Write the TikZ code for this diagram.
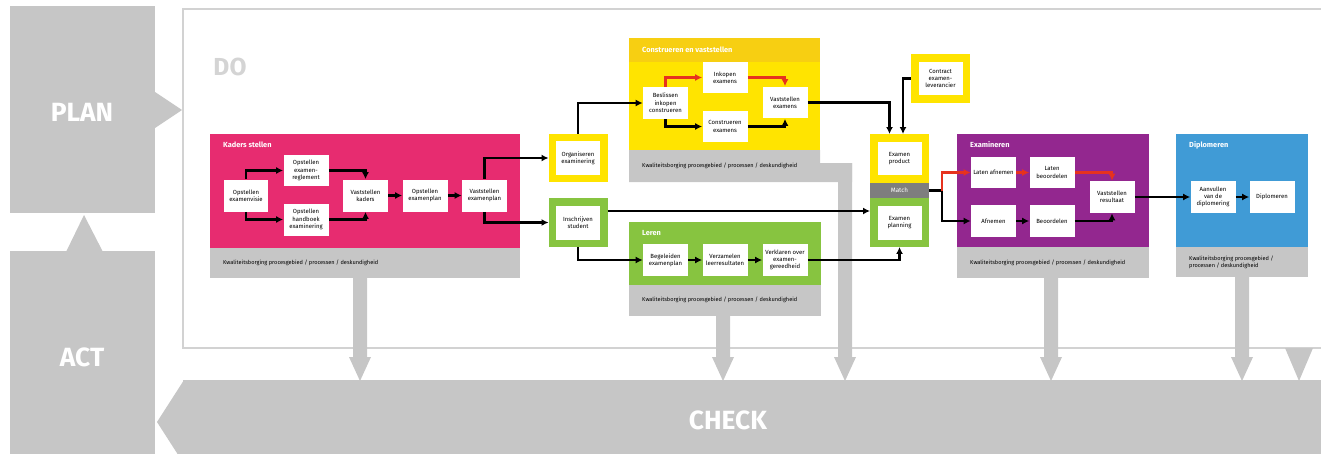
\documentclass[tikz,border=0pt]{standalone}
\usepackage{fontspec}
\setmainfont{Fira Sans}
\usepackage{tikz}
\usetikzlibrary{arrows.meta,positioning}
\definecolor{pdcagrey}{HTML}{C6C6C6}
\definecolor{framegrey}{HTML}{D2D2D2}
\definecolor{dogrey}{HTML}{D4D4D4}
\definecolor{matchgrey}{HTML}{7E7E7E}
\definecolor{kaderpink}{HTML}{E72C70}
\definecolor{ylw}{HTML}{FFE400}
\definecolor{ylwdark}{HTML}{F7CF12}
\definecolor{grn}{HTML}{87C440}
\definecolor{purp}{HTML}{93278F}
\definecolor{blu}{HTML}{409BD6}
\definecolor{arrred}{HTML}{E6321E}

\tikzset{
  proc/.style={fill=white, minimum width=0.9cm, minimum height=0.64cm, inner sep=0pt,
    align=center, font=\fontsize{3.4}{4.2}\selectfont},
  framed/.style={proc, draw=#1, line width=0.15cm, minimum width=1.03cm, minimum height=0.83cm},
  flow/.style={-{Latex[length=1.4mm,width=1.4mm]}, line width=1.2pt},
  redflow/.style={flow, draw=arrred},
  areatitle/.style={anchor=west, text=white, font=\fontsize{4.2}{5}\selectfont\bfseries},
  qa/.style={anchor=west, align=left, font=\fontsize{3.2}{4}\selectfont},
  pdca/.style={text=white, font=\fontsize{15}{18}\selectfont\bfseries},
}

\begin{document}
\begin{tikzpicture}[x=0.02cm, y=-0.02cm]
        \useasboundingbox (0,0) rectangle (1321,453);
        \clip (0,0) rectangle (1321,453);

        % PLAN / ACT / CHECK
        \fill[pdcagrey] (10,6) rectangle (155,213);
        \fill[pdcagrey] (155,92) -- (182,110) -- (155,128) -- cycle;
        \node[pdca] (plan) at (82,112) {PLAN};
        \fill[pdcagrey] (10,251) rectangle (155,460);
        \fill[pdcagrey] (66,252) -- (84,215) -- (103,252) -- cycle;
        \node[pdca] (act) at (82,357) {ACT};
        \fill[pdcagrey] (183,380) rectangle (1330,460);
        \fill[pdcagrey] (184,380) -- (157,422) -- (184,464) -- cycle;
        \node[pdca] (check) at (728,420) {CHECK};

        % DO frame
        \draw[framegrey, line width=0.04cm] (183,9) rectangle (1340,348);
        \node[text=dogrey, font=\fontsize{14}{16}\selectfont\bfseries] (do) at (230,67) {DO};

        % Kaders stellen
        \fill[kaderpink] (210,134) rectangle (520,248);
        \fill[pdcagrey] (210,248) rectangle (520,278);
        \node[areatitle] (kadtitle) at (217,145) {Kaders stellen};
        \node[qa] (kadqa) at (217,263) {Kwaliteitsborging procesgebied / processen / deskundigheid};

        % Construeren en vaststellen
        \fill[ylw] (629,38) rectangle (820,150);
        \fill[ylwdark] (629,38) rectangle (820,62);
        \fill[pdcagrey] (629,150) -- (820,150) -- (820,163) -- (852,163) -- (852,182) -- (629,182) -- cycle;
        \node[areatitle] (contitle) at (636,50) {Construeren en vaststellen};
        \node[qa] (conqa) at (636,166) {Kwaliteitsborging procesgebied / processen / deskundigheid};

        % Leren
        \fill[grn] (629,222) rectangle (821,285);
        \fill[pdcagrey] (629,285) rectangle (821,316);
        \node[areatitle] (lertitle) at (636,233) {Leren};
        \node[qa] (lerqa) at (636,300) {Kwaliteitsborging procesgebied / processen / deskundigheid};

        % Examineren
        \fill[purp] (957,134) rectangle (1149,247);
        \fill[pdcagrey] (957,247) rectangle (1149,278);
        \node[areatitle] (examtitle) at (964,145) {Examineren};
        \node[qa] (examqa) at (964,263) {Kwaliteitsborging procesgebied / processen / deskundigheid};

        % Diplomeren
        \fill[blu] (1176,134) rectangle (1308,247);
        \fill[pdcagrey] (1176,247) rectangle (1308,277);
        \node[areatitle] (diptitle) at (1183,145) {Diplomeren};
        \node[qa] (dipqa) at (1183,262) {Kwaliteitsborging procesgebied /\\processen / deskundigheid};

        % grey arrows down to CHECK
        \foreach \ax/\ay in {360/278, 723/316, 845/163, 1051/278, 1242/277}
          \fill[pdcagrey] (\ax-7,\ay) -- (\ax+7,\ay) -- (\ax+7,357) -- (\ax+11,357)
            -- (\ax,381) -- (\ax-11,357) -- (\ax-7,357) -- cycle;
        \fill[pdcagrey] (1285,348) -- (1313,348) -- (1299,381) -- cycle;

        % process steps
        \node[proc] (visie) at (246,195.5) {Opstellen\\examenvisie};
        \node[proc] (reglement) at (306,170.5) {Opstellen\\examen-\\reglement};
        \node[proc] (handboek) at (306,219.5) {Opstellen\\handboek\\examinering};
        \node[proc] (kaders) at (365.5,195.5) {Vaststellen\\kaders};
        \node[proc] (explan) at (425,195.5) {Opstellen\\examenplan};
        \node[proc] (vastplan) at (484.5,195.5) {Vaststellen\\examenplan};

        \node[framed=ylw] (organiseren) at (578,158) {Organiseren\\examinering};
        \node[framed=grn] (inschrijven) at (578,222.5) {Inschrijven\\student};

        \node[proc] (beslissen) at (665.5,103) {Beslissen\\inkopen\\construeren};
        \node[proc] (inkopen) at (725,77.5) {Inkopen\\examens};
        \node[proc] (construeren) at (725,126.5) {Construeren\\examens};
        \node[proc] (vastexam) at (785,102.5) {Vaststellen\\examens};

        \node[proc] (begeleiden) at (665.5,260) {Begeleiden\\examenplan};
        \node[proc] (verzamelen) at (725,260) {Verzamelen\\leerresultaten};
        \node[proc] (verklaren) at (785,260) {Verklaren over\\examen-\\gereedheid};

        \node[framed=ylw] (contract) at (940.5,78.5) {Contract\\examen-\\leverancier};
        \node[framed=ylw] (exprod) at (899.5,158.5) {Examen\\product};
        \node[fill=matchgrey, minimum width=1.18cm, minimum height=0.3cm, inner sep=0pt,
          text=white, font=\fontsize{3.6}{4}\selectfont] (match) at (899.5,190.5) {Match};
        \node[framed=grn] (planning) at (899.5,222.5) {Examen\\planning};
        \coordinate (split) at (942,190.5);

        \node[proc] (lafnemen) at (993.5,172.5) {Laten afnemen};
        \node[proc] (lbeoordelen) at (1052,172.5) {Laten\\beoordelen};
        \node[proc] (afnemen) at (993.5,221) {Afnemen};
        \node[proc] (beoordelen) at (1052,221) {Beoordelen};
        \node[proc] (resultaat) at (1112,197) {Vaststellen\\resultaat};

        \node[proc] (aanvullen) at (1213,197) {Aanvullen\\van de\\diplomering};
        \node[proc] (diplomeren) at (1272,197) {Diplomeren};

        % Kaders stellen flows
        \draw[flow] (visie.north) |- (reglement.west);
        \draw[flow] (visie.south) |- (handboek.west);
        \draw[flow] (reglement.east) -| (kaders.north);
        \draw[flow] (handboek.east) -| (kaders.south);
        \draw[flow] (kaders) -- (explan);
        \draw[flow] (explan) -- (vastplan);
        \draw[flow] (vastplan.north) |- (organiseren.west);
        \draw[flow] (vastplan.south) |- (inschrijven.west);

        % Construeren flows
        \draw[flow] (organiseren.north) |- (beslissen.west);
        \draw[redflow] (beslissen.north) |- (inkopen.west);
        \draw[redflow] (inkopen.east) -| (vastexam.north);
        \draw[flow] (beslissen.south) |- (construeren.west);
        \draw[flow] (construeren.east) -| (vastexam.south);
        \draw[flow] (vastexam.east) -| ([xshift=-0.2cm]exprod.north);
        \draw[flow] (contract.west) -| ([xshift=0.07cm]exprod.north);

        % Leren flows
        \draw[flow] ([yshift=0.23cm]inschrijven.east) -- ([yshift=0.23cm]planning.west);
        \draw[flow] (inschrijven.south) |- (begeleiden.west);
        \draw[flow] (begeleiden) -- (verzamelen);
        \draw[flow] (verzamelen) -- (verklaren);
        \draw[flow] (verklaren.east) -| (planning.south);

        % Examineren flows
        \draw[line width=1.2pt] (match.east) -- (split);
        \draw[redflow] (split) |- (lafnemen.west);
        \draw[flow] (split) |- (afnemen.west);
        \draw[redflow] (lafnemen) -- (lbeoordelen);
        \draw[redflow] (lbeoordelen.east) -| (resultaat.north);
        \draw[flow] (afnemen) -- (beoordelen);
        \draw[flow] (beoordelen.east) -| (resultaat.south);

        % Diplomeren flows
        \draw[flow] (resultaat) -- (aanvullen);
        \draw[flow] (aanvullen) -- (diplomeren);
    \end{tikzpicture}
\end{document}
